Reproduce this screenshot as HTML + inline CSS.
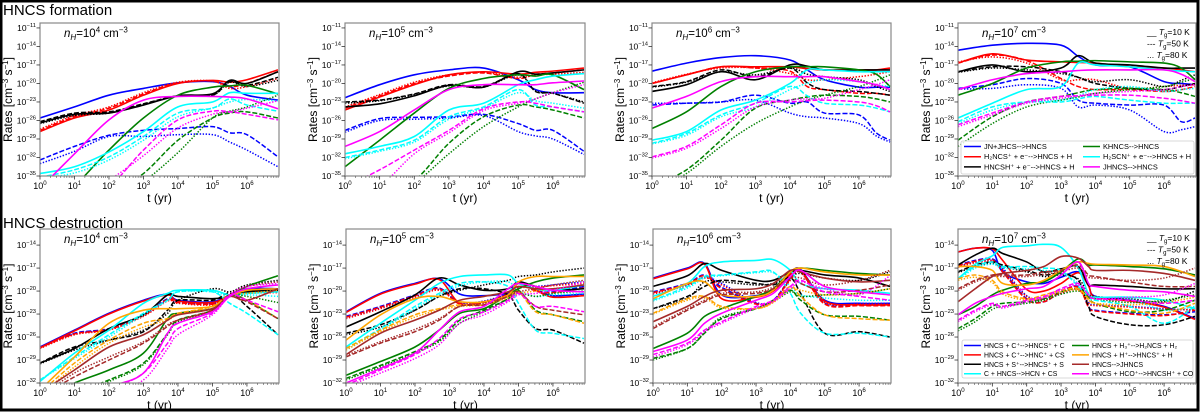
<!DOCTYPE html>
<html><head><meta charset="utf-8"><style>
html,body{margin:0;padding:0;background:#fff}
svg{display:block;font-family:"Liberation Sans","DejaVu Sans",sans-serif}
</style></head><body>
<svg id="chart" width="1200" height="412" viewBox="0 0 1200 412" xmlns="http://www.w3.org/2000/svg">
<rect x="0" y="0" width="1200" height="412" fill="#fff"/>
<text x="3" y="15" font-size="15">HNCS formation</text>
<text x="3" y="228" font-size="15">HNCS destruction</text>
<g id="plots"></g>
<g id="overlay"></g>
<rect x="1" y="1" width="1197" height="409" fill="none" stroke="#000" stroke-width="3"/>
</svg>
<script>
// ---- time grids (log10 t [yr]) ----
const tA = [0,1,2,3,4,5,5.5,6,6.9];
const tB = [0,1,2,3,4,5,5.5,6,6.9];
const tC = [0,1,2,3,4,4.5,5,6,6.5,6.9];
const tD = [0,1,2,3,3.5,4,5,6,6.5,6.9];
const tE = [0,1,2,3,3.7,4,5,5.5,6,6.9];
const tF = [0,1,2,2.7,3.3,4,4.7,5,5.5,6,6.9];
const tG = [0,1,1.5,2,3,3.5,4,4.3,5,6,6.9];
const tH = [0,0.5,1,1.3,2,2.5,3,3.5,3.8,4,5,6,6.9];
// tick labels
const yTicksTop = [-11,-14,-17,-20,-23,-26,-29,-32,-35];
const yTicksBot = [-14,-17,-20,-23,-26,-29,-32];
const xTicks = [0,1,2,3,4,5,6];
const densities = ['4','5','6','7','4','5','6','7'];
// ---- formation, nH=1e4 : [solid (10K), dashed (50K), dotted (80K)] log10 rate ----
const A_blue = [[-25.6,-23.8,-21.9,-20.8,-19.9,-19.7,-20.5,-21.9,-22.7],[-32.4,-30.2,-28.4,-27.6,-27.3,-27,-28,-28.3,-31.9],[-33,-31,-28.6,-28.6,-28.3,-28.3,-29.5,-30.8,-33.5]];
const A_red = [[-27.8,-25.6,-24.3,-21.9,-20,-19.5,-19.8,-19.4,-17.8],[-27.6,-25.4,-24,-21.7,-19.9,-19.6,-20.5,-20,-18.1],[-27.4,-25.2,-23.8,-21.5,-19.8,-19.6,-20.8,-20.5,-19.2]];
const A_black = [[-26.4,-25,-24.8,-23.5,-22,-21.7,-19.5,-20,-18.1],[-26.2,-24.8,-24.6,-23.3,-22,-21.9,-19.7,-20.3,-19],[-26.5,-25.2,-24.8,-23.4,-22,-21.9,-19.8,-20.5,-19.5]];
const A_green = [[-42,-36.7,-30.8,-25.6,-21.9,-20.6,-20.4,-20.3,-21.7],[-45,-42,-38,-34.6,-29.2,-25.6,-24.8,-24.6,-25.6],[-48,-44,-40,-36,-31.2,-25.6,-24.5,-23.8,-21.9]];
const A_cyan = [[-34.6,-33.5,-31.1,-27.8,-23.8,-23,-21.5,-21.6,-21.6],[-35.2,-34,-31.9,-28.6,-24.8,-24,-22.5,-23.5,-24.5],[-35.4,-34.5,-32.4,-29.2,-25.4,-24,-23,-22.6,-22.8]];
const A_magenta = [[-37,-31.4,-25.9,-22.7,-22.1,-22.1,-22.2,-22.5,-24.1],[-42,-39,-36.7,-30.8,-25.9,-24.5,-24.6,-25,-25.9],[-42,-39,-35.7,-31.7,-27.2,-25,-24.6,-24,-22.8]];
// ---- formation, nH=1e5 ----
const B_blue = [[-22.3,-20.2,-18.6,-17.8,-17.5,-19.4,-21,-21.5,-21.5],[-27.6,-25.7,-25.5,-25.4,-25,-26.5,-27.6,-27.6,-31],[-27.9,-26,-25.8,-25.6,-25.2,-27.8,-28.5,-29,-31.5]];
const B_red = [[-24.3,-22.2,-20.2,-18.6,-18.1,-18.5,-18.2,-18,-17.5],[-24,-22,-20,-18.8,-18.3,-19.2,-18.5,-18.3,-17.8],[-23.8,-21.8,-19.8,-18.6,-18.2,-19,-18.6,-18.5,-18.2]];
const B_black = [[-23.8,-23.3,-22,-20.3,-20.6,-18.1,-18.5,-18.3,-17.8],[-23,-22.7,-21.7,-20.2,-20.5,-18.4,-21.3,-21.6,-23.2],[-23.2,-22.8,-21.8,-20.4,-20.6,-18.6,-21.2,-21.6,-23]];
const B_green = [[-33.5,-29.2,-24.8,-20.8,-19.2,-18.6,-18.8,-18.6,-21],[-40,-37.5,-35.7,-29.7,-25.4,-23.5,-23.8,-24.3,-25.6],[-42,-39,-36.2,-31.4,-27,-23.8,-22.5,-21.5,-19.8]];
const B_cyan = [[-31.4,-30.2,-28.6,-24.3,-23.2,-20.2,-19.4,-18.8,-18.4],[-32,-30.8,-29.2,-25.4,-23.8,-21,-23.5,-23.8,-24.6],[-32.2,-31,-29.5,-25.8,-24,-21.5,-22.8,-23.2,-24]];
const B_magenta = [[-30.2,-27.8,-24.3,-21,-20.2,-20.2,-20.2,-19.9,-19.6],[-36.8,-34,-30.8,-27.6,-24.1,-23,-23.2,-23.8,-24.6],[-40,-36.8,-31.4,-28,-24.4,-23.2,-22.5,-21.5,-20.2]];
// ---- formation, nH=1e6 ----
const C_blue = [[-18,-16.7,-15.8,-15.5,-16.2,-17.8,-19.4,-20.6,-20.6,-20.6],[-23.5,-23.2,-23,-21.9,-23.2,-23,-24.8,-25.1,-28,-29.2],[-23.2,-23.2,-23,-22.7,-24.8,-25.4,-25.6,-26.5,-28.5,-29.5]];
const C_red = [[-20,-18.6,-17.3,-17.3,-17.3,-17.6,-17.8,-17.8,-17.8,-17.5],[-20,-18.6,-17.3,-17.5,-18,-20.5,-21,-21.6,-21.6,-21.9],[-19.9,-18.5,-17.5,-17.5,-18.4,-19.4,-19.4,-18.9,-18.5,-18.1]];
const C_black = [[-21.3,-20.2,-18.1,-19.4,-17,-17.2,-17.8,-17.8,-17.8,-17.8],[-20.5,-19.7,-17.8,-18.9,-17.5,-19.9,-21,-21.3,-21.6,-21.9],[-20.6,-19.8,-18.1,-18.6,-17.5,-18.5,-18.9,-19.4,-20.5,-21.3]];
const C_green = [[-27.3,-24.6,-20.5,-18.1,-17.3,-17.3,-17.3,-17.8,-18.5,-20.5],[-36.7,-34,-29.2,-24,-22.7,-22.2,-21.9,-22.1,-22.5,-23],[-37.8,-34.6,-30.2,-26.5,-23.8,-22.7,-21.9,-20.5,-19.5,-18.6]];
const C_cyan = [[-29.2,-27.8,-24.3,-22.7,-20,-17.8,-17.8,-18.1,-18.1,-18.1],[-29.7,-28.1,-25.1,-23.2,-20.5,-22,-23.2,-23.5,-24,-24.6],[-29.8,-28.4,-25.4,-23.8,-21,-20,-19.4,-19.7,-20.2,-20.5]];
const C_magenta = [[-24,-22.1,-19.7,-18.9,-18.9,-18.9,-18.9,-19.7,-20.2,-21],[-31.9,-30.2,-26.7,-23.2,-23,-22.8,-22.7,-23,-23.6,-24.6],[-32.1,-30.5,-27.3,-23.8,-22.7,-22.5,-22.4,-21,-20.2,-19.4]];
// ---- formation, nH=1e7 ----
const D_blue = [[-14.6,-13.8,-13.5,-13.8,-15.6,-17,-17.3,-19.7,-20,-20.2],[-20.8,-20.2,-19.2,-20,-22.7,-23.2,-23.5,-23.5,-26.2,-25.6],[-20.9,-20.8,-20.2,-20.8,-23.8,-23.5,-24.3,-27.8,-27.5,-27]];
const D_red = [[-16.7,-15.2,-16.2,-16.5,-16.6,-16.7,-17.3,-17.5,-17.8,-18.1],[-16.7,-15.4,-16.3,-19.2,-20.5,-21,-21,-21.3,-21,-20.5],[-16.5,-15.7,-16.7,-19.4,-19.4,-19.4,-20.8,-20.5,-20.3,-20.2]];
const D_black = [[-18.1,-17,-18.1,-17.5,-15.5,-16.7,-17,-17.5,-17.5,-17.5],[-18.1,-17.3,-17.3,-18.1,-19,-20,-20.8,-21,-20.5,-20],[-18.2,-17.5,-17.8,-18.4,-19,-19.7,-19.4,-20.5,-19.5,-18.6]];
const D_green = [[-21.9,-20,-17.5,-16.5,-16.4,-16.3,-16.5,-16.7,-17.5,-19.4],[-29.2,-25.4,-23,-22.1,-21.5,-21,-20.8,-21,-21.5,-22.1],[-30.2,-26.5,-23.8,-22.7,-22.2,-21.6,-21,-20.5,-19.8,-19.2]];
const D_cyan = [[-25.6,-23.2,-21,-20.5,-16.7,-17,-17.3,-17.8,-18,-18.1],[-26.2,-23.8,-23,-23,-22.5,-22.1,-22.7,-23.2,-23.2,-23.2],[-26.5,-24.3,-23,-22.7,-22,-21,-20.5,-21.3,-21,-20.8]];
const D_magenta = [[-21,-19.4,-18.4,-18.1,-17.9,-17.8,-17.8,-17.8,-18.5,-19.7],[-26.7,-24.8,-23,-22.1,-22,-21.9,-21.9,-22.4,-22.8,-23.2],[-27,-25.1,-23.2,-22.4,-22,-21.6,-21.3,-21,-20.5,-20.2]];
// ---- destruction, nH=1e4 ----
const E_blue = [[-27.3,-25.1,-22.9,-21.2,-20.4,-21.2,-21.4,-20.5,-19.7,-19.7],[-27.3,-25.5,-24.9,-23.1,-21,-21.4,-21.6,-20.5,-19.9,-19.7],[-27.4,-25.6,-25,-23.2,-21.2,-21.5,-21.6,-20.6,-20.1,-19.9]];
const E_red = [[-27.4,-25.2,-23,-21.3,-20.5,-21.3,-21.5,-20.6,-19.9,-20],[-27.4,-25.6,-25,-23.2,-21.1,-21.5,-21.7,-20.6,-20.1,-20],[-27.5,-25.7,-25.1,-23.3,-21.3,-21.6,-21.8,-20.7,-20.3,-20.2]];
const E_black = [[-29.4,-27.5,-24.9,-23.1,-20.5,-20.7,-21,-20.7,-20.1,-19.9],[-29.4,-27.3,-26.4,-25.3,-22.5,-21.2,-21.2,-20.3,-22,-25.7],[-29.5,-27.7,-26.4,-25.1,-22.9,-21.2,-19.7,-20.1,-19.2,-18.6]];
const E_cyan = [[-31.8,-28.1,-25.1,-21.6,-20.3,-19.9,-19.9,-20.5,-20.3,-20.1],[-31.6,-28.6,-25.7,-22.9,-21.2,-20.1,-20.1,-21.6,-22.9,-25.7],[-31.6,-28.8,-26,-23.1,-21.2,-20.1,-20.1,-20.7,-20.5,-20.7]];
const E_green = [[-34.2,-32,-30.3,-28.1,-23.6,-22.9,-22.3,-20.7,-19.4,-18],[-35.1,-33.3,-31.6,-29.4,-25.5,-23.8,-22.5,-20.5,-21.2,-23.6],[-35.3,-33.5,-31.8,-29.6,-25.7,-24,-22.6,-20.5,-20.7,-21.5]];
const E_orange = [[-32.9,-28.6,-24.2,-22.5,-22.3,-22.3,-22,-20.7,-19.9,-19.7],[-33.3,-29.4,-26.4,-24.2,-23.6,-22.9,-22,-20.5,-21.2,-23.6],[-33.6,-29.9,-26.8,-24.7,-23.8,-23.1,-22,-20.5,-20.3,-19.9]];
const E_brown = [[-33.3,-30.3,-27.3,-25.7,-23.8,-23.1,-22.3,-20.7,-21.2,-19.7],[-33.8,-31.2,-29,-26.8,-24.6,-23.8,-22.5,-20.5,-21.4,-23.6],[-33.8,-30.7,-28.6,-26.6,-24.4,-23.8,-22.5,-20.5,-19.4,-18.8]];
const E_magenta = [[-36,-34.2,-32.5,-30.7,-25.5,-24.2,-22.7,-20.7,-19.7,-19.2],[-36.4,-34.7,-32.9,-30.7,-26.8,-24.9,-22.9,-20.5,-21.2,-22.7],[-36.8,-35.1,-33.3,-31.6,-27.5,-25.7,-23.1,-20.5,-19.4,-19]];
// ---- destruction, nH=1e5 ----
const F_blue = [[-22.7,-20.3,-19,-18.4,-20.4,-20.6,-20.2,-18.9,-19.9,-20.6,-20.4],[-23.3,-22,-20.5,-19.6,-21.6,-21.4,-20.3,-18.9,-19.9,-20.1,-19.4],[-23.5,-22.2,-20.7,-19.8,-21.5,-21.3,-20.3,-19.5,-19.4,-19.2,-18.8]];
const F_red = [[-22.8,-20.4,-19.1,-18.5,-21.6,-21.4,-20.6,-19,-19.9,-20.8,-20.6],[-23.4,-22.1,-20.6,-19.7,-21.7,-21.5,-20.4,-19,-20,-20.2,-19.6],[-23.6,-22.3,-20.8,-19.9,-21.6,-21.4,-20.4,-19.6,-19.5,-19.3,-19]];
const F_black = [[-24.7,-22.7,-20.5,-18.3,-19.2,-19.9,-19.7,-18.8,-19.4,-19.9,-19.7],[-25.5,-24.4,-22.5,-20.7,-19.7,-19.7,-20.5,-22.5,-24.9,-25.1,-26.8],[-25.7,-24.7,-22.5,-20.7,-19.9,-19.2,-18.6,-18.1,-17.9,-17.5,-17]];
const F_cyan = [[-27.3,-24.2,-21.2,-19,-18.1,-17.9,-17.9,-19,-19.7,-19.9,-19.2],[-27.5,-24.9,-22,-20.3,-19,-18.8,-19.4,-21.6,-25.1,-25.5,-26.2],[-27.7,-25.1,-22.3,-20.5,-19.3,-18.8,-18.8,-20,-20.7,-20.5,-20.3]];
const F_green = [[-31,-29.2,-27.3,-25.1,-22.9,-22.3,-20.5,-19.7,-18.8,-18.3,-17.9],[-31.4,-29.7,-27.9,-26.4,-23.8,-22.5,-21,-19.9,-22.5,-23.1,-24],[-31.6,-29.9,-28.1,-26.6,-24.2,-22.7,-21,-20.3,-20.7,-20.3,-20]];
const F_orange = [[-26.4,-23.1,-21,-20.7,-21.4,-21.4,-20.5,-18.8,-18.1,-18.1,-18.1],[-27.5,-25.1,-23.1,-22.3,-21.8,-21.8,-20.7,-20.1,-22.7,-23.1,-24.2],[-27.7,-25.3,-23.4,-22.5,-22,-21.8,-20.9,-20.3,-20,-19.7,-19.2]];
const F_brown = [[-28.3,-25.5,-23.8,-22.5,-21.2,-20.7,-20.1,-19.4,-19.7,-19.7,-19.2],[-28.6,-26.8,-25.3,-23.8,-22,-21.8,-20.7,-20.1,-22,-22.5,-23.1],[-28.4,-26.6,-25,-23.6,-22,-21.6,-20.7,-20.1,-19.7,-19.2,-18.6]];
const F_magenta = [[-32,-30.1,-28.1,-25.1,-22.7,-22,-19.7,-19,-19.4,-19.9,-20.1],[-32.3,-30.3,-28.3,-26.2,-23.6,-22.7,-21.2,-20.3,-22,-22,-22.7],[-32.5,-30.7,-28.8,-27,-24.2,-23.1,-21.4,-20.5,-20.3,-19.9,-18.8]];
// ---- destruction, nH=1e6 ----
const G_blue = [[-18.3,-17,-16.4,-20.5,-20.6,-19.9,-17.7,-17.2,-21.2,-21.6,-21.6],[-20.1,-19,-17.9,-19.5,-21.6,-21.2,-18.3,-17.3,-21.6,-21.8,-21.8],[-20.3,-19.2,-18.2,-19,-21.5,-21.2,-18.5,-17.5,-21.4,-21.6,-21.6]];
const G_red = [[-18.4,-17.1,-16.5,-21,-20.8,-20,-17.8,-17.3,-21.3,-21.8,-21.8],[-20.2,-19.1,-18,-19.7,-21.7,-21.3,-18.4,-17.4,-21.7,-21.9,-21.9],[-20.4,-19.3,-18.3,-19.2,-21.6,-21.3,-18.6,-17.6,-21.5,-21.7,-21.7]];
const G_black = [[-19.4,-18,-16.4,-17.3,-18.6,-18.6,-17.5,-17.3,-17.9,-18.3,-19.4],[-22.3,-20.7,-19.4,-18.6,-19,-19.2,-18.3,-20.3,-25.5,-25.3,-26],[-22.3,-20.9,-18.8,-18.8,-19.2,-19,-18.1,-17.7,-18.3,-18.6,-17.5]];
const G_cyan = [[-20.7,-19,-16.8,-16.2,-16,-15.9,-17.3,-19,-19.7,-19.9,-20.3],[-21.2,-19.4,-18.1,-17.9,-17.5,-17.5,-20.3,-22.9,-25.5,-25.5,-26],[-21.3,-19.6,-18.3,-18,-17.6,-17.6,-19.4,-20.5,-20.9,-21.2,-21.2]];
const G_green = [[-27.5,-25.5,-23.3,-22.3,-20.7,-19.7,-17.5,-17,-17.3,-17.7,-17.9],[-28.8,-27.5,-25.5,-23.6,-22.3,-21.2,-19.9,-21.2,-23.1,-23.3,-23.8],[-29,-27.5,-25.4,-23.4,-22.3,-21.4,-20.1,-20.7,-20.5,-20.3,-19.7]];
const G_orange = [[-21,-19,-18.8,-20.5,-20.7,-19.9,-17.5,-17,-17.5,-17.9,-17.9],[-22.9,-21,-20.7,-22,-22.3,-21.4,-19.4,-20.7,-23.1,-23.6,-23.8],[-23,-21.2,-20.9,-22.2,-22.3,-21.5,-19.7,-19.9,-20.5,-20.3,-19.7]];
const G_brown = [[-24,-22,-20.7,-19.9,-19.7,-19,-17.3,-17.5,-18.3,-18.8,-18.6],[-24.9,-22.5,-21.4,-20.5,-20.3,-19.7,-18.3,-19,-20.1,-19.9,-19.2],[-24.7,-22.3,-21.2,-20.3,-20.1,-19.5,-18.3,-18.3,-19.2,-18.6,-17.3]];
const G_magenta = [[-27.9,-26.4,-24.2,-22.9,-21.2,-20.3,-18.1,-17.3,-19.4,-20.1,-20.5],[-28.3,-26.8,-25.1,-24,-22,-21.2,-19.4,-18.6,-20.1,-20.7,-21.2],[-28.6,-27,-25.3,-24.2,-22.2,-21.4,-19.7,-18.8,-19.7,-20.5,-18]];
// ---- destruction, nH=1e7 ----
const H_blue = [[-14.9,-14.4,-14.7,-17.5,-18.8,-19,-18.2,-17.5,-19.3,-20.7,-21.2,-22,-23.6],[-16.6,-16,-15.8,-17.3,-21,-21.4,-20.1,-19.4,-22,-22.5,-22.9,-23.1,-22.7],[-16.8,-16.2,-16,-17,-20.6,-21,-20.3,-19.7,-21.5,-21.8,-22,-22.3,-22.5]];
const H_red = [[-14.9,-14.4,-14.5,-16,-19.8,-20,-19,-17.6,-19.3,-20.8,-21.3,-22.1,-23.7],[-16.7,-16.1,-15.9,-17.5,-21.1,-21.4,-20.1,-19.5,-22.1,-22.6,-23,-23.2,-22.5],[-16.9,-16.3,-16.1,-17.2,-20.7,-21.1,-20.3,-19.8,-21.6,-21.9,-22.1,-22.4,-22.4]];
const H_black = [[-16.6,-15.3,-14.4,-15.1,-16.2,-17.5,-17.1,-16.8,-19.2,-19.2,-19.4,-19.7,-19.7],[-17.5,-16.6,-16.2,-16.6,-17.3,-17.9,-17.7,-18.6,-22,-23.3,-24.4,-24.4,-23.3],[-17.6,-16.8,-16.4,-16.8,-17.5,-18.1,-17.9,-18.4,-20.3,-20.7,-21,-21.4,-20]];
const H_cyan = [[-18.4,-16.5,-15.4,-14.3,-14.1,-13.9,-14.3,-17,-20.4,-20.8,-20.8,-21.2,-22.3],[-18.4,-16.8,-16.2,-16.8,-16.8,-17,-17.3,-19.4,-20.8,-21.2,-22,-24.2,-22],[-18.6,-17,-16.5,-17,-17.1,-17.3,-17.6,-19,-20.5,-20.8,-21,-22.5,-22]];
const H_green = [[-23.1,-22,-20.5,-19.9,-19,-18.8,-17.5,-15.8,-16.6,-16.6,-16.8,-17.1,-17.9],[-24.9,-23.6,-22,-21.6,-21.4,-21,-20.1,-19.7,-20.8,-21.6,-22.7,-22.5,-21.2],[-25.2,-24,-22.4,-22,-21.6,-21.2,-20.4,-20,-20.6,-21,-21.5,-21.2,-20.5]];
const H_orange = [[-16.8,-16.8,-17.3,-19,-19.2,-18.6,-17.3,-16.2,-16.4,-16.5,-16.6,-16.8,-18.1],[-18.4,-17.9,-18.6,-20.1,-21,-20.5,-19.9,-19.7,-21,-21.6,-22.5,-22.9,-21.6],[-18.6,-18.2,-18.9,-20.4,-21.2,-20.8,-20.1,-19.9,-21.2,-21.6,-21.8,-21.5,-20.8]];
const H_brown = [[-21.4,-19.7,-18.1,-17.7,-17.3,-16.8,-15.5,-15.7,-16.8,-17.3,-17.3,-17.7,-18.6],[-19.7,-18.6,-17.9,-17.9,-17.9,-17.5,-17.3,-16.6,-17.9,-18.1,-18.8,-19.4,-19.4],[-19.9,-18.8,-18.1,-18.1,-18.1,-17.8,-17.5,-17,-18.2,-18.3,-18.6,-18.3,-17]];
const H_magenta = [[-23.1,-21.6,-20.7,-20.3,-19.7,-19.4,-17.9,-16.2,-19,-19.4,-19.9,-20.1,-20.7],[-23.8,-22.5,-21.6,-22,-21.2,-20.7,-19.7,-19,-20.5,-21,-21.2,-21.6,-21.2],[-24,-22.7,-21.8,-22.2,-21.4,-20.9,-19.9,-19.2,-20.5,-21,-20.8,-20.5,-19]];

// ---- layout (not data) ----
const NS='http://www.w3.org/2000/svg';
const COLORS={blue:'#0000ff',red:'#ff0000',black:'#000000',green:'#008000',cyan:'#00ffff',magenta:'#ff00ff',orange:'#ffa500',brown:'#a52a2a'};
const DASH=['', '5,2', '1.4,1.6'];
const STYLE=['solid','dashed','dotted'];
const XMAX=Math.log10(8.5e6);
const panels=[
 {id:'A',row:0,l:40,r:279,t:tA,s:{blue:A_blue,red:A_red,black:A_black,green:A_green,cyan:A_cyan,magenta:A_magenta}},
 {id:'B',row:0,l:345,r:585,t:tB,s:{blue:B_blue,red:B_red,black:B_black,green:B_green,cyan:B_cyan,magenta:B_magenta}},
 {id:'C',row:0,l:652,r:891,t:tC,s:{blue:C_blue,red:C_red,black:C_black,green:C_green,cyan:C_cyan,magenta:C_magenta}},
 {id:'D',row:0,l:958,r:1196,t:tD,s:{blue:D_blue,red:D_red,black:D_black,green:D_green,cyan:D_cyan,magenta:D_magenta}},
 {id:'E',row:1,l:40,r:279,t:tE,s:{blue:E_blue,red:E_red,black:E_black,cyan:E_cyan,green:E_green,orange:E_orange,brown:E_brown,magenta:E_magenta}},
 {id:'F',row:1,l:346,r:585,t:tF,s:{blue:F_blue,red:F_red,black:F_black,cyan:F_cyan,green:F_green,orange:F_orange,brown:F_brown,magenta:F_magenta}},
 {id:'G',row:1,l:653,r:891,t:tG,s:{blue:G_blue,red:G_red,black:G_black,cyan:G_cyan,green:G_green,orange:G_orange,brown:G_brown,magenta:G_magenta}},
 {id:'H',row:1,l:958,r:1196,t:tH,s:{blue:H_blue,red:H_red,black:H_black,cyan:H_cyan,green:H_green,orange:H_orange,brown:H_brown,magenta:H_magenta}}
];
const ROWS=[{top:23,bot:176,ymin:-35,ymax:-10.2,ticks:yTicksTop},{top:229,bot:383,ymin:-32,ymax:-11.9,ticks:yTicksBot}];
const root=document.getElementById('plots');
function el(tag,attrs,parent){const e=document.createElementNS(NS,tag);for(const k in attrs)e.setAttribute(k,attrs[k]);(parent||root).appendChild(e);return e;}
function pow10Text(parent,x,y,exp,size,anchor,name){
  const t=el('text',{x:x,y:y,'font-size':size,'text-anchor':anchor},parent);
  
  
  t.appendChild(document.createTextNode('10'));
  const sp=el('tspan',{dy:-size*0.45,'font-size':size*0.68},t);
  sp.textContent=String(exp).replace('-','\u2212');
  return t;
}
function smooth(pts){
  let d='M'+pts[0][0].toFixed(2)+','+pts[0][1].toFixed(2);
  for(let i=0;i<pts.length-1;i++){
    const p0=pts[i-1]||pts[i],p1=pts[i],p2=pts[i+1],p3=pts[i+2]||p2;
    const c1x=p1[0]+(p2[0]-p0[0])/6,c1y=p1[1]+(p2[1]-p0[1])/6;
    const c2x=p2[0]-(p3[0]-p1[0])/6,c2y=p2[1]-(p3[1]-p1[1])/6;
    d+='C'+c1x.toFixed(2)+','+c1y.toFixed(2)+' '+c2x.toFixed(2)+','+c2y.toFixed(2)+' '+p2[0].toFixed(2)+','+p2[1].toFixed(2);
  }
  return d;
}
const defs=el('defs',{});
panels.forEach((p,pi)=>{
  const R=ROWS[p.row];
  const xs=v=>p.l+(v/XMAX)*(p.r-p.l);
  const ys=v=>R.bot-(v-R.ymin)/(R.ymax-R.ymin)*(R.bot-R.top);
  const g=el('g',{});
  
  
  const cp=el('clipPath',{id:'clip'+p.id},defs);
  el('rect',{x:p.l,y:R.top,width:p.r-p.l,height:R.bot-R.top},cp);
  const lines=el('g',{'clip-path':'url(#clip'+p.id+')'},g);
  
  
  Object.keys(p.s).forEach(c=>{
    [2,1,0].forEach(k=>{
      const vals=p.s[c][k];
      const pts=vals.map((v,i)=>[xs(p.t[i]),ys(v)]);
      const path=el('path',{d:smooth(pts),fill:'none',stroke:COLORS[c],'stroke-width':k===0?1.6:1.5,'stroke-dasharray':DASH[k]},lines);
      
      
    });
  });
  const fr=el('rect',{x:p.l,y:R.top,width:p.r-p.l,height:R.bot-R.top,fill:'none',stroke:'#888','stroke-width':1.2},g);
  
  
  R.ticks.forEach(v=>{
    const y=ys(v);
    el('line',{x1:p.l-3.5,x2:p.l,y1:y,y2:y,stroke:'#333','stroke-width':0.8},g);
    pow10Text(g,p.l-4,y+3,v,8.5,'end','y-tick-label');
  });
  xTicks.forEach(v=>{
    const x=xs(v);
    el('line',{x1:x,x2:x,y1:R.bot,y2:R.bot+3.5,stroke:'#333','stroke-width':0.8},g);
    pow10Text(g,x,R.bot+13,v,9,'middle','x-tick-label');
    for(let m=2;m<10;m++){const lv=v+Math.log10(m); if(lv<XMAX){const xm=xs(lv);el('line',{x1:xm,x2:xm,y1:R.bot,y2:R.bot+2,stroke:'#555','stroke-width':0.6},g);}}
  });
  const cy=(R.top+R.bot)/2;
  const yl=el('text',{x:0,y:0,'font-size':12,'text-anchor':'middle',transform:'translate('+(p.l-28)+','+cy+') rotate(-90)'},g);
  
  
  yl.innerHTML='Rates [cm<tspan dy="-4" font-size="8">\u22123</tspan><tspan dy="4"> s</tspan><tspan dy="-4" font-size="8">\u22121</tspan><tspan dy="4">]</tspan>';
  const xl=el('text',{x:(p.l+p.r)/2,y:R.bot+26,'font-size':12,'text-anchor':'middle'},g);
  
  
  xl.textContent='t (yr)';
  const an=el('text',{x:p.l+24,y:R.top+14,'font-size':11.5},g);
  
  
  an.innerHTML='<tspan font-style="italic">n</tspan><tspan dy="3" font-size="8" font-style="italic">H</tspan><tspan dy="-3">=10</tspan><tspan dy="-4.5" font-size="8">'+densities[pi]+'</tspan><tspan dy="4.5"> cm</tspan><tspan dy="-4.5" font-size="8">\u22123</tspan>';
});
</script>
<script>
const ov=document.getElementById('overlay');
function mk(tag,attrs,parent){const e=document.createElementNS(NS,tag);for(const k in attrs)e.setAttribute(k,attrs[k]);parent.appendChild(e);return e;}
function tgLegend(top,name){
  const g=mk('g',{},ov);
  
  
  const labels=[['__','10'],['---','50'],['...','80']];
  labels.forEach((l,i)=>{
    const t=mk('text',{x:1147,y:top+i*11.5,'font-size':8.5},g);
    t.innerHTML=l[0]+' <tspan font-style="italic">T</tspan><tspan dy="2" font-size="6">g</tspan><tspan dy="-2">='+l[1]+' K</tspan>';
  });
}
tgLegend(35,'temperature-legend-formation');
tgLegend(241,'temperature-legend-destruction');
function boxLegend(x,y,w,h,rowH,fs,cols,name){
  const g=mk('g',{},ov);
  
  
  mk('rect',{x:x,y:y,width:w,height:h,rx:2,fill:'#fff','fill-opacity':0.85,stroke:'#ccc','stroke-width':0.8},g);
  cols.forEach(col=>{
    col.items.forEach((it,i)=>{
      const yy=y+5.5+i*rowH;
      mk('line',{x1:col.x,x2:col.x+17,y1:yy,y2:yy,stroke:COLORS[it[0]],'stroke-width':1.5},g);
      const t=mk('text',{x:col.x+20,y:yy+2.5,'font-size':fs},g);
      t.textContent=it[1];
    });
  });
}
boxLegend(961,141,233,33,10.2,7.4,[
 {x:964,items:[['blue','JN+JHCS-->HNCS'],['red','H\u2082NCS\u207A + e\u207B-->HNCS + H'],['black','HNCSH\u207A + e\u207B-->HNCS + H']]},
 {x:1083,items:[['green','KHNCS-->HNCS'],['cyan','H\u2082SCN\u207A + e\u207B-->HNCS + H'],['magenta','JHNCS-->HNCS']]}
],'formation-legend');
boxLegend(962,340,231,38,9.4,6.9,[
 {x:964,items:[['blue','HNCS + C\u207A-->HNCS\u207A + C'],['red','HNCS + C\u207A-->HNC\u207A + CS'],['black','HNCS + S\u207A-->HNCS\u207A + S'],['cyan','C + HNCS-->HCN + CS']]},
 {x:1072,items:[['green','HNCS + H\u2083\u207A-->H\u2082NCS + H\u2082'],['orange','HNCS + H\u207A-->HNCS\u207A + H'],['brown','HNCS-->JHNCS'],['magenta','HNCS + HCO\u207A-->HNCSH\u207A + CO']]}
],'destruction-legend');
</script>
</body></html>
